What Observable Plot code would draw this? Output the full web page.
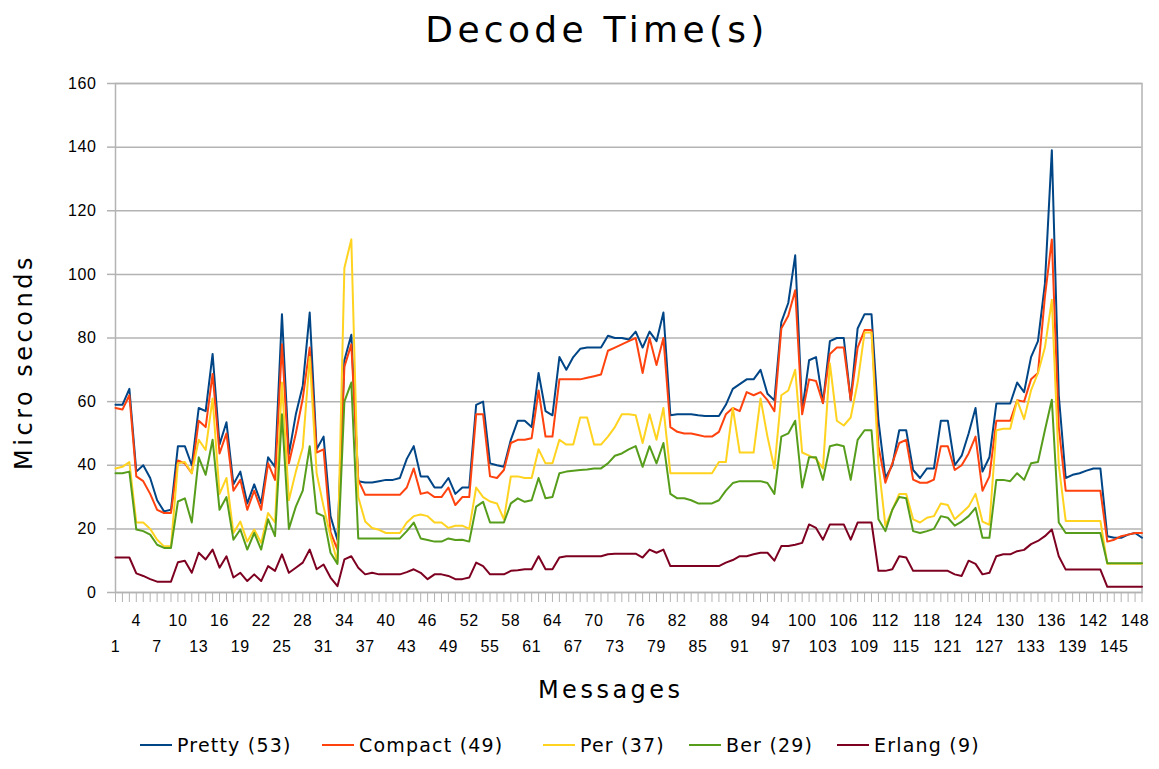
<!DOCTYPE html>
<html>
<head>
<meta charset="utf-8">
<script src="https://cdn.jsdelivr.net/npm/d3@7"></script>
<script src="https://cdn.jsdelivr.net/npm/@observablehq/plot@0.6"></script>
<style>
  html, body { margin: 0; padding: 0; background: #fff; }
  #page { position: relative; width: 1159px; height: 769px; overflow: hidden; font-family: "DejaVu Sans", sans-serif; color: #000; }
  #title { position: relative; height: 62px; }
  #title span { position: absolute; left: 597px; top: 9px; transform: translateX(-50%); font-size: 36px; line-height: 42px; letter-spacing: 4.3px; white-space: nowrap; }
  #chart svg { display: block; }
  #legend { position: relative; height: 47px; }
  .item { position: absolute; top: 11px; height: 24px; display: flex; align-items: center; white-space: nowrap; font-size: 19px; letter-spacing: 1.2px; }
  .sw { width: 32px; height: 2px; margin-right: 5px; }
  g[aria-label="x-axis tick label"] text, g[aria-label="y-axis tick label"] text { letter-spacing: 0.6px; }
  g[aria-label="text"] text { letter-spacing: 3.5px; }
</style>
</head>
<body>
<div id="page">
  <div id="title"><span>Decode Time(s)</span></div>
  <div id="chart"></div>
  <div id="legend"></div>
</div>
<script>
// ---- data ----
const messages = d3.range(1, 150); // 1..149
const seriesNames = ["Pretty (53)", "Compact (49)", "Per (37)", "Ber (29)", "Erlang (9)"];
const seriesColors = ["#004586", "#ff420e", "#ffd320", "#579d1c", "#7e0021"];
const yTicks = [0, 20, 40, 60, 80, 100, 120, 140, 160];
const upperLabels = d3.range(4, 149, 6);  // 4, 10, ..., 148
const lowerLabels = d3.range(1, 149, 6);  // 1, 7, ..., 145

const pretty = [
  59, 59, 64, 38, 40, 36, 29, 25.5, 26, 46,
  46, 40, 58, 57, 75, 46.5, 53.5, 34, 38, 28,
  34, 28, 42.5, 39.5, 87.5, 43.5, 56, 65, 88, 45,
  49, 24, 16.5, 73, 81, 35, 34.6, 34.6, 35, 35.4,
  35.4, 36, 42, 46, 36.5, 36.5, 33, 33, 36, 31,
  33, 33, 59, 60, 40.6, 40, 39.5, 48, 54, 54,
  52, 69, 57, 55.7, 74, 70, 74, 76.6, 77, 77,
  77, 80.7, 80, 80, 79.5, 82, 77, 82, 79, 88,
  55.7, 56, 56, 56, 55.7, 55.5, 55.5, 55.5, 59, 64,
  65.5, 67, 67, 70, 62.5, 60.4, 85, 91, 106, 57,
  73, 74, 59.6, 79, 80, 80, 60.5, 83, 87.5, 87.5,
  54, 36, 40, 51, 51, 38.5, 36, 39, 39, 54,
  54, 40, 43, 50, 58, 38, 42.5, 59.4, 59.4, 59.4,
  66, 63, 74, 79, 97, 139, 62, 36, 37, 37.5,
  38.3, 39, 39, 17.7, 17.2, 17.2, 18.2, 18.7, 17.2
];
const compact = [
  58, 57.5, 62, 36.5, 35, 31, 26, 25, 25, 41.5,
  40.6, 37.5, 54, 52, 68.7, 43.7, 50, 32, 35.4, 26,
  32, 26, 40.6, 35.4, 78, 40.6, 50, 61, 77, 44,
  45, 19, 13.5, 71, 78, 35.4, 30.7, 30.7, 30.7, 30.7,
  30.7, 30.7, 33, 39, 31, 31.5, 30, 30, 33, 27.5,
  30, 30, 56, 56, 36.5, 36, 38.5, 47, 48, 48,
  48.5, 63.5, 49, 49, 67, 67, 67, 67, 67.5, 68,
  68.5, 76, 77, 78, 79, 80, 69, 80, 71.5, 80,
  52, 50.5, 50, 50, 49.5, 49, 49, 50.5, 56, 58,
  57, 63, 62, 63, 60.5, 57, 83, 87, 95, 56,
  67, 66.5, 59.5, 75, 77, 77, 60.5, 77, 82.5, 82.5,
  46, 34.5, 40.6, 47, 48, 35.5, 34.5, 34.5, 35.5, 46,
  46, 38.5, 40, 43.7, 49, 32, 36.5, 54, 54, 54,
  60.4, 60, 67, 69, 93, 111, 52, 32, 32, 32,
  32, 32, 32, 16, 16.6, 17.7, 18.2, 18.7, 18.7
];
const per = [
  39, 39.5, 41, 22, 22, 20, 16.6, 14.5, 14.5, 40.6,
  41, 37.5, 48, 44.8, 61, 31, 36, 18.7, 22.3, 16,
  19.8, 15.6, 25, 22, 66, 29, 38, 45.6, 74, 37.5,
  27, 17.7, 9.4, 102, 111, 30, 22.3, 20.3, 19.7, 18.7,
  18.7, 18.7, 22, 24, 24.5, 24, 22, 22, 20.3, 21,
  21, 20, 33, 30, 28.6, 28, 23, 36.5, 36.5, 36,
  36, 45, 40.6, 40.6, 48, 46.5, 46.5, 55, 55, 46.5,
  46.5, 49, 52, 56, 56, 55.7, 47, 56, 48, 58,
  37.5, 37.5, 37.5, 37.5, 37.5, 37.5, 37.5, 41, 41, 58,
  44, 44, 44, 61, 49, 39, 62, 63.5, 70, 44,
  43, 42, 39, 72, 54, 52.5, 55, 66, 81.7, 81.7,
  40.6, 21, 26, 31, 31, 23, 22, 23.5, 24, 28,
  27.5, 23, 25, 27, 31, 22.3, 21.3, 51, 51.5, 51.5,
  60.4, 54.5, 63.5, 69, 77, 92, 40, 22.5, 22.5, 22.5,
  22.5, 22.5, 22.5, 9, 9, 9, 9, 9, 9
];
const ber = [
  37.5, 37.5, 38, 19.8, 19.3, 18.2, 15, 14, 14, 28.6,
  29.6, 22, 42.5, 37, 48, 26, 30, 16.6, 19.8, 13.5,
  18.7, 13.5, 23, 17.7, 56, 20, 27, 32, 46, 25,
  24, 12.5, 9, 60, 66, 17, 17, 17, 17, 17,
  17, 17, 19.3, 22, 17, 16.5, 16, 16, 17, 16.5,
  16.6, 16, 27, 28.5, 22, 22, 22, 28, 29.6, 28.5,
  29, 36, 29.6, 30, 37.5, 38, 38.3, 38.5, 38.7, 39,
  39, 40.6, 43, 43.7, 45, 46, 39.5, 46, 40.6, 47,
  31, 29.6, 29.6, 29, 28, 28, 28, 29, 32, 34.4,
  35, 35, 35, 35, 34.4, 31, 49, 50, 54, 33,
  42.5, 42.5, 35.4, 46, 46.5, 46, 35.4, 48, 51, 51,
  23, 19.3, 26, 30, 29.6, 19.3, 18.7, 19.3, 20, 24,
  23.5, 21, 22.3, 24, 26.6, 17.2, 17.2, 35.4, 35.4, 35,
  37.5, 35.4, 40.6, 41, 51, 60.6, 22, 18.7, 18.7, 18.7,
  18.7, 18.7, 18.7, 9.2, 9.2, 9.2, 9.2, 9.2, 9.2
];
const erlang = [
  11, 11, 11, 6, 5.2, 4.2, 3.4, 3.4, 3.4, 9.5,
  10, 6.2, 12.5, 10.4, 13.5, 7.8, 11.4, 4.7, 6.2, 3.6,
  5.7, 3.6, 8.3, 6.8, 12, 6.2, 7.8, 9.4, 13.5, 7.3,
  8.8, 4.7, 2, 10.4, 11.4, 7.8, 5.7, 6.2, 5.7, 5.7,
  5.7, 5.7, 6.4, 7.3, 6.2, 4.2, 5.7, 5.7, 5.2, 4.2,
  4.2, 4.7, 9.4, 8.3, 5.7, 5.7, 5.7, 6.8, 7, 7.3,
  7.3, 11.4, 7.3, 7.3, 11, 11.4, 11.4, 11.4, 11.4, 11.4,
  11.4, 12, 12.2, 12.2, 12.2, 12.2, 11, 13.5, 12.5, 13.5,
  8.3, 8.3, 8.3, 8.3, 8.3, 8.3, 8.3, 8.3, 9.4, 10.2,
  11.4, 11.4, 12, 12.5, 12.5, 10, 14.6, 14.6, 15, 15.6,
  21.4, 20.3, 16.6, 21.4, 21.4, 21.4, 16.6, 22, 22, 22,
  6.8, 6.8, 7.3, 11.4, 11, 6.8, 6.8, 6.8, 6.8, 6.8,
  6.8, 5.7, 5.2, 10, 9, 5.7, 6.2, 11.4, 12, 12,
  13, 13.4, 15.2, 16.2, 17.7, 19.8, 11.4, 7.2, 7.2, 7.2,
  7.2, 7.2, 7.2, 1.8, 1.8, 1.8, 1.8, 1.8, 1.8
];

const seriesValues = [pretty, compact, per, ber, erlang];
const rows = [];
seriesValues.forEach((vals, s) => {
  vals.forEach((v, i) => rows.push({message: messages[i], value: v, series: seriesNames[s]}));
});

const plot = Plot.plot({
  width: 1159,
  height: 660,
  marginLeft: 115,
  marginRight: 17.5,
  marginTop: 21,
  marginBottom: 130,
  style: {fontFamily: "'Liberation Sans', Arial, sans-serif", fontSize: "16px", color: "#000", background: "#fff", overflow: "visible"},
  x: {type: "linear", domain: [1, 149]},
  y: {domain: [0, 160]},
  color: {domain: seriesNames, range: seriesColors},
  marks: [
    Plot.gridY(yTicks, {stroke: "#b3b3b3", strokeOpacity: 1, strokeWidth: 1.5}),
    Plot.frame({stroke: "#b3b3b3", strokeWidth: 1.5}),
    Plot.axisY(yTicks, {tickSize: 8, tickPadding: 11, stroke: "#b3b3b3", strokeWidth: 1.5, label: null, fontSize: 16}),
    Plot.axisX(messages, {tickSize: 10, stroke: "#b3b3b3", tickFormat: () => "", label: null}),
    Plot.axisX(upperLabels, {tickSize: 0, tickPadding: 22, tickFormat: d => String(d), label: null, fontSize: 16}),
    Plot.axisX(lowerLabels, {tickSize: 0, tickPadding: 48, tickFormat: d => String(d), label: null, fontSize: 16}),
    Plot.line(rows, {x: "message", y: "value", stroke: "series", strokeWidth: 2}),
    Plot.text(["Messages"], {frameAnchor: "bottom", dx: -18, dy: 98, lineAnchor: "middle", text: d => d, fontSize: 24, fontFamily: "DejaVu Sans"}),
    Plot.text(["Micro seconds"], {frameAnchor: "left", dx: -91, dy: 24, rotate: -90, lineAnchor: "middle", textAnchor: "middle", text: d => d, fontSize: 24, fontFamily: "DejaVu Sans"})
  ]
});
document.getElementById("chart").appendChild(plot);

// legend (HTML, below the SVG)
const legendLeft = [140, 322, 543, 689, 837];
const legend = document.getElementById("legend");
seriesNames.forEach((name, i) => {
  const item = document.createElement("div");
  item.className = "item";
  item.style.left = legendLeft[i] + "px";
  const sw = document.createElement("span");
  sw.className = "sw";
  sw.style.background = seriesColors[i];
  const label = document.createElement("span");
  label.textContent = name;
  item.appendChild(sw);
  item.appendChild(label);
  legend.appendChild(item);
});
</script>
</body>
</html>
